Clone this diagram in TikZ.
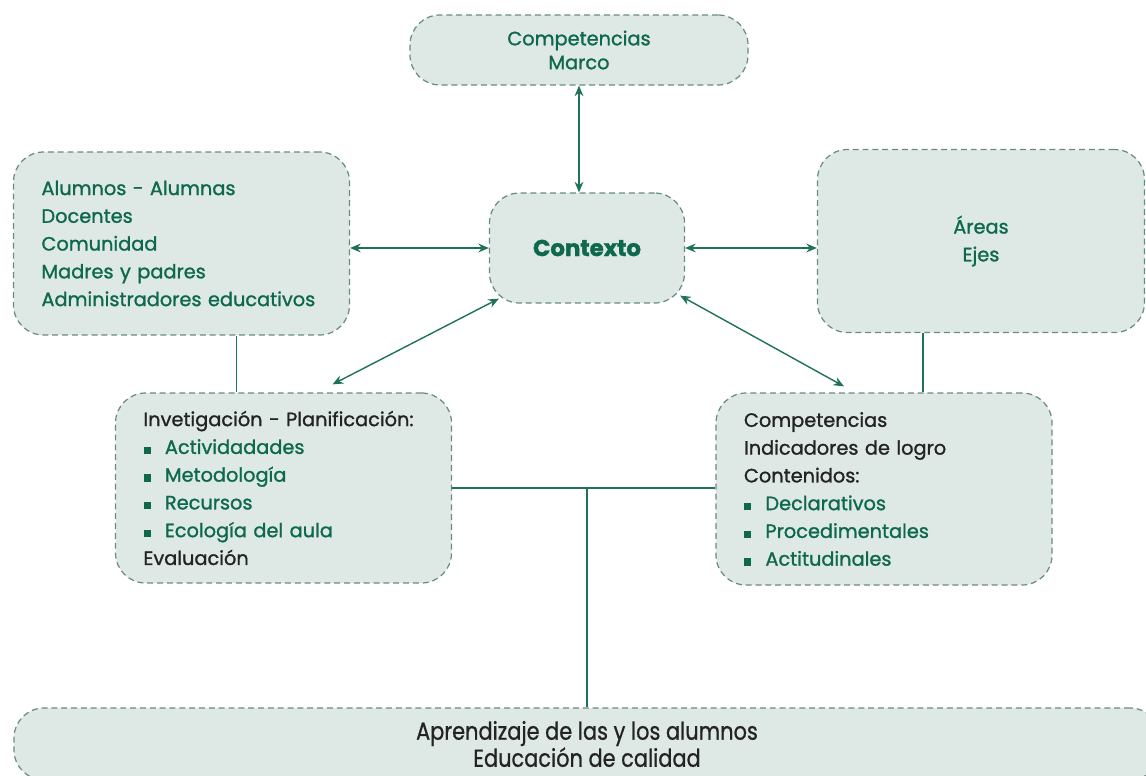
\documentclass[tikz,border=0pt]{standalone}
\usepackage{fontspec}
\setmainfont{Poppins}[UprightFeatures={FakeBold=1.2}, BoldFeatures={FakeBold=1.6}]
\newfontfamily\narrowfont{Poppins}[FakeStretch=0.85, FakeBold=0.8]
\usepackage{xcolor}
\usepackage{tikz}
\usetikzlibrary{arrows.meta}
\usetikzlibrary{positioning}
\definecolor{boxfill}{RGB}{222,233,229}
\definecolor{boxline}{RGB}{105,140,128}
\definecolor{ctxgreen}{RGB}{14,104,78}
\definecolor{linkgreen}{RGB}{30,114,90}
\definecolor{ink}{RGB}{35,35,35}
\newcommand{\ptitem}[1]{\textcolor{ctxgreen}{\rule{4.2pt}{4.2pt}\hspace{8pt}#1}}
\tikzstyle{box} = [rectangle, rounded corners=0.6cm, draw=boxline, fill=boxfill, dash pattern=on 3.4pt off 2.2pt, line width=0.7pt, font=\fontsize{11}{15.8}\selectfont, text=ctxgreen, align=center]
\tikzstyle{listbox} = [box, align=left, text width=5.6cm, inner xsep=0.56cm]
\tikzstyle{arrow} = [thick, draw=linkgreen, {Stealth[length=6pt,width=5pt]}-{Stealth[length=6pt,width=5pt]}]
\tikzstyle{line} = [thick, -, draw=linkgreen]

\begin{document}
\begin{tikzpicture}
    \useasboundingbox (0,0) rectangle (22.92,-15.5);
    \clip (0,0) rectangle (22.92,-15.5);
    \node(ctx)[box, minimum width=3.9cm, minimum height=2.2cm, font=\fontsize{13}{15}\bfseries] at (11.74,-4.96) {Contexto};
    \node(marco)[box, node distance=3.96cm, above of=ctx, xshift=-0.16cm, minimum width=6.76cm, minimum height=1.4cm, font=\fontsize{11}{13.6}\selectfont] {Competencias\\Marco};
    \node(actors)[listbox, node distance=8.11cm, left of=ctx, yshift=0.09cm, minimum height=3.66cm] {Alumnos - Alumnas\\Docentes\\Comunidad\\Madres y padres\\Administradores educativos};
    \node(areas)[box, node distance=7.88cm, right of=ctx, yshift=0.14cm, minimum width=6.54cm, minimum height=3.66cm] {Áreas\\Ejes};
    \node(plan)[listbox, node distance=4.89cm, below of=actors, xshift=2.04cm, minimum height=3.8cm, text=ink] {Invetigación - Planificación:\\\ptitem{Actividadades}\\\ptitem{Metodología}\\\ptitem{Recursos}\\\ptitem{Ecología del aula}\\Evaluación};
    \node(comp)[listbox, node distance=4.96cm, below of=areas, xshift=-1.94cm, minimum height=3.84cm, text=ink] {Competencias\\Indicadores de logro\\Contenidos:\\\ptitem{Declarativos}\\\ptitem{Procedimentales}\\\ptitem{Actitudinales}};
    \node(learn)[box, node distance=9.92cm, below of=ctx, minimum width=22.92cm, minimum height=1.44cm, text=ink, font=\narrowfont\fontsize{14}{15.4}\selectfont] {Aprendizaje de las y los alumnos\\Educación de calidad};
    \draw[arrow](marco.south)--(marco.south |- ctx.north);
    \draw[arrow](ctx.west -| actors.east)--(ctx.west);
    \draw[arrow](ctx.east)--(ctx.east -| areas.west);
    \draw[arrow]([shift={(0.2cm,0.1cm)}]ctx.south west)--([shift={(0.98cm,0.16cm)}]plan.north);
    \draw[arrow]([shift={(-0.1cm,0.16cm)}]ctx.south east)--([shift={(-0.8cm,0.12cm)}]comp.north);
    \draw[line]([xshift=1.1cm]actors.south)--([xshift=1.1cm]actors.south |- plan.north);
    \draw[line]([xshift=-1.16cm]areas.south)--([xshift=-1.16cm]areas.south |- comp.north);
    \draw[line](plan.east)--(plan.east -| comp.west);
    \coordinate(mid) at (ctx |- plan.east);
    \draw[line](mid)--(mid |- learn.north);
  \end{tikzpicture}
\end{document}
